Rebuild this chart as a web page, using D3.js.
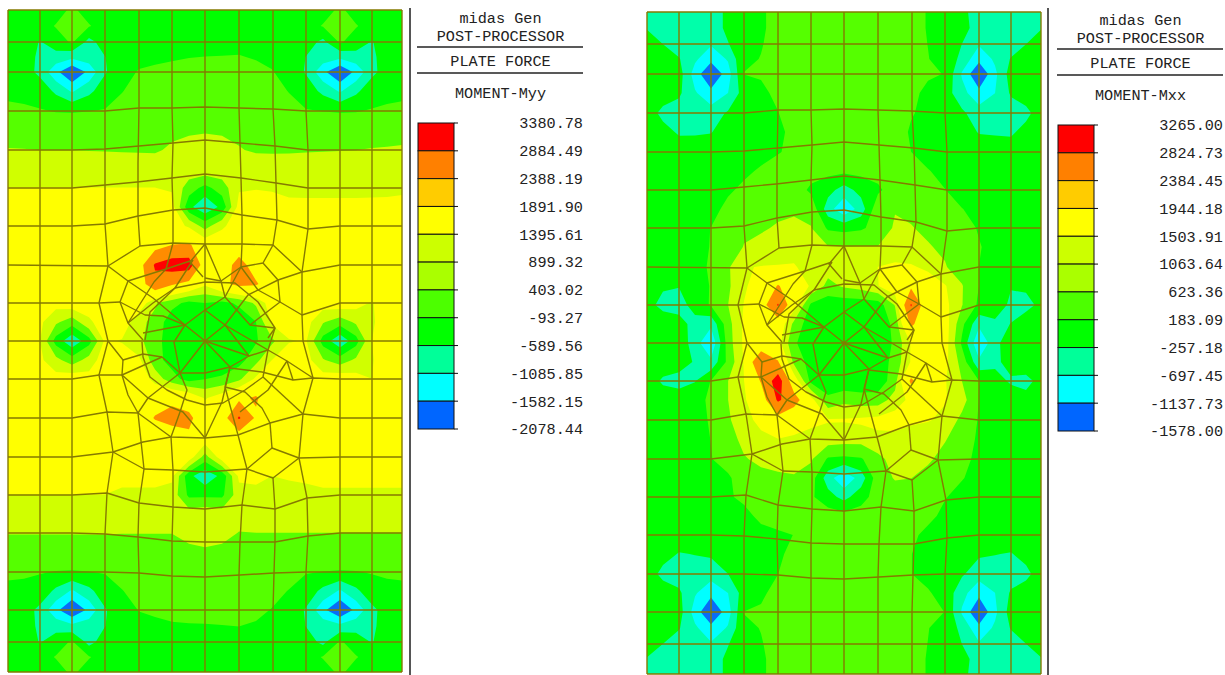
<!DOCTYPE html>
<html>
<head>
<meta charset="utf-8">
<script src="https://cdn.jsdelivr.net/npm/d3@7"></script>
<style>
  body { margin: 0; background: #fff; }
  text { font-family: "Liberation Mono", monospace; font-size: 15.2px; fill: #222; }
  .mesh { fill: none; stroke: #857a00; stroke-width: 1.4; stroke-linejoin: round; }
</style>
</head>
<body>
<svg id="chart" width="1225" height="675"></svg>
<script>
// legend tick labels
const legendMyy = ["3380.78","2884.49","2388.19","1891.90","1395.61","899.32","403.02","-93.27","-589.56","-1085.85","-1582.15","-2078.44"];
const legendMxx = ["3265.00","2824.73","2384.45","1944.18","1503.91","1063.64","623.36","183.09","-257.18","-697.45","-1137.73","-1578.00"];
const legendColors = ["#ff0000","#ff8000","#ffcc00","#ffff00","#ccff00","#aaff00","#4cff00","#00ff00","#00ff99","#00ffff","#0066ff"];

// contour levels actually shown on the plate
const levelsMyy = [-1582.15,-1085.85,-589.56,-93.27,403.02,899.32,1891.90,2884.49];
const levelsMxx = [-1137.73,-697.45,-257.18,183.09,623.36,1063.64,1944.18,2824.73];
const plateColors = ["#0a6cf5","#00ffff","#00ffaa","#00ff00","#55ff00","#d0ff00","#ffff00","#ff8c00","#ff0000"];

// sample positions on the plate
const sampleX = [8,24,40,56,72,89,105,122,139,155,172,189,205,222,239,256,272,289,306,323,340,356,372,387,402];
const sampleY = [10,26,42,57,72,91,111,130,150,169,188,207,226,245,265,284,303,322,341,360,379,398,418,437,457,476,495,514,533,552,572,591,610,626,642,657,672];

// plate moment values, one row per sampleY
const momentMyy = [
[-300,-300,-300,-300,0,-300,-300,-300,-300,-300,-300,-300,-300,-300,-300,-300,-300,-300,-300,-300,0,-300,-300,-300,-300],
[-300,-300,-300,-60,80,-60,-300,-300,-300,-300,-300,-300,-300,-300,-300,-300,-300,-300,-300,-60,80,-60,-300,-300,-300],
[-300,-300,-620,-330,-30,-760,-350,-280,-240,-220,-200,-190,-180,-190,-200,-220,-240,-280,-350,-720,-30,-330,-620,-300,-300],
[-300,-330,-700,-780,-950,-800,-600,-280,-220,-170,-130,-100,-90,-85,-75,-120,-200,-280,-600,-800,-950,-780,-700,-330,-300],
[-300,-360,-720,-1450,-2078,-1450,-640,-250,-60,-20,0,10,20,20,20,0,-70,-260,-640,-1450,-2078,-1450,-720,-360,-300],
[-170,-190,-260,-700,-1150,-720,-300,-110,60,100,120,130,140,140,130,110,60,-110,-300,-720,-1150,-700,-260,-190,-170],
[-20,-40,-70,-110,-120,-100,-70,60,160,200,230,240,250,240,230,200,160,60,-70,-100,-120,-110,-70,-40,-20],
[170,170,170,170,170,170,170,170,220,260,300,340,360,340,300,250,210,170,170,170,170,170,170,170,170],
[430,420,400,400,400,390,380,370,360,350,470,560,600,560,430,350,340,350,370,380,390,400,430,450,480],
[650,650,650,650,650,650,650,650,650,650,680,720,750,720,680,650,650,640,630,630,630,630,640,650,660],
[905,905,905,905,905,905,905,905,905,905,840,150,-250,150,840,880,860,800,790,790,790,790,800,810,830],
[1080,1080,1080,1080,1080,1080,1080,1080,1080,1080,1100,-450,-1000,-450,1100,1080,1060,1000,1000,1000,1000,1000,1000,1000,1020],
[1220,1220,1220,1220,1220,1220,1220,1220,1220,1220,1220,800,200,800,1220,1220,1220,1220,1220,1220,1220,1220,1220,1220,1220],
[1330,1330,1330,1330,1330,1330,1330,1330,1340,1500,1900,2000,1300,1300,1300,1340,1330,1330,1330,1330,1330,1330,1330,1330,1330],
[1400,1400,1400,1400,1400,1400,1400,1400,1500,3000,3380,3380,1300,1300,2300,1400,1400,1400,1400,1400,1400,1400,1400,1400,1400],
[1400,1400,1400,1400,1400,1400,1400,1400,1400,2600,2000,1600,1000,1700,2100,2000,1300,1400,1400,1400,1400,1400,1400,1400,1400],
[1350,1350,1150,1100,1250,1200,1300,1300,1300,450,100,-250,-100,-250,0,500,1200,1350,1300,1150,1250,1100,850,1300,1350],
[1350,1300,1000,500,120,800,1200,1300,500,300,-450,-450,-500,-500,-450,-100,1000,1300,1100,450,120,500,800,1300,1350],
[1350,1300,900,-300,-950,-300,1000,850,500,150,-450,-500,-520,-500,-480,-150,300,850,950,-300,-950,-300,900,1300,1350],
[1350,1300,1000,550,120,600,1200,1300,1000,100,-300,-500,-520,-500,-300,250,900,1300,1100,450,120,500,850,1300,1350],
[1400,1350,1150,1100,1250,1100,1300,1350,1300,700,100,-300,-100,0,300,1000,1300,1350,1300,1150,1250,1100,900,1350,1400],
[1400,1400,1400,1400,1400,1400,1400,1400,1350,1500,1600,1400,850,1200,1700,2000,1300,1400,1400,1400,1400,1400,1400,1400,1400],
[1400,1400,1400,1400,1400,1400,1400,1400,1400,1950,2300,2100,1300,1400,3000,1750,1350,1400,1400,1400,1400,1400,1400,1400,1400],
[1330,1330,1330,1330,1330,1330,1330,1330,1330,1350,1300,1750,1300,1300,1400,1300,1330,1330,1330,1330,1330,1330,1330,1330,1330],
[1250,1250,1250,1250,1250,1250,1250,1250,1250,1250,1250,1200,200,1200,1250,1250,1250,1250,1250,1250,1250,1250,1250,1250,1250],
[1050,1050,1050,1050,1050,1050,1050,1050,1050,1050,1000,-450,-950,-450,1000,1000,900,930,950,980,980,980,980,980,980],
[895,895,895,895,895,895,895,800,800,800,700,-200,-200,-200,700,780,780,800,820,850,850,850,850,850,850],
[650,650,650,650,650,650,650,650,650,650,650,650,750,650,650,650,650,650,650,650,650,650,650,650,650],
[420,420,420,420,420,420,420,410,410,410,410,600,650,600,380,400,400,400,400,400,400,400,400,400,400],
[200,200,200,200,200,200,200,200,200,200,200,250,320,250,200,200,200,200,200,200,200,200,200,200,200],
[-30,-40,-70,-110,-120,-100,-70,60,160,200,230,240,250,240,230,200,160,60,-70,-100,-120,-110,-70,-40,-30],
[-170,-190,-260,-700,-1150,-720,-300,-110,60,110,130,140,150,150,150,120,30,-110,-300,-720,-1150,-700,-260,-190,-170],
[-300,-360,-720,-1450,-2078,-1450,-640,-250,-80,-50,-20,-10,10,20,20,-10,-110,-260,-640,-1450,-2078,-1450,-720,-360,-300],
[-300,-330,-700,-780,-950,-800,-600,-280,-220,-150,-120,-110,-110,-100,-90,-130,-220,-280,-600,-800,-950,-780,-700,-330,-300],
[-300,-300,-620,-330,-30,-760,-350,-280,-240,-220,-200,-190,-180,-190,-200,-220,-240,-280,-350,-720,-30,-330,-620,-300,-300],
[-300,-300,-300,-60,80,-60,-300,-300,-300,-300,-300,-300,-300,-300,-300,-300,-300,-300,-300,-60,80,-60,-300,-300,-300],
[-300,-300,-300,-300,0,-300,-300,-300,-300,-300,-300,-300,-300,-300,-300,-300,-300,-300,-300,-300,0,-300,-300,-300,-300]
];

const momentMxx = [
[-500,-500,-500,-500,-500,-150,80,150,260,420,420,420,420,420,420,420,260,170,100,-150,-450,-500,-500,-500,-500],
[-280,-420,-500,-500,-500,-150,80,150,260,420,420,420,420,420,420,420,260,170,100,-100,-450,-500,-500,-420,-280],
[-80,-260,-460,-560,-650,-280,60,170,260,420,420,420,420,420,420,420,260,180,50,-260,-650,-560,-460,-260,-80],
[20,-100,-230,-620,-1000,-650,140,190,300,420,420,420,420,420,420,420,300,190,100,-400,-1000,-620,-230,-100,20],
[50,50,-60,-900,-1578,-900,190,230,320,420,420,420,420,420,420,420,320,240,170,-750,-1578,-800,-50,30,60],
[70,50,-180,-650,-1000,-700,-50,80,290,420,420,420,420,420,420,420,290,80,-40,-550,-1000,-700,-200,50,70],
[40,-420,-480,-520,-500,-200,20,60,170,420,430,430,430,430,430,400,220,60,20,-180,-500,-520,-480,-420,40],
[70,-60,-330,-320,-280,-20,30,50,90,300,440,440,440,440,440,400,130,40,20,-10,-290,-320,-350,-60,70],
[50,50,50,50,50,50,50,60,150,300,430,430,430,430,430,300,185,60,50,50,50,50,50,50,50],
[50,50,50,50,50,50,110,230,400,420,350,300,280,300,350,420,400,200,90,50,50,50,50,50,50],
[50,50,50,50,50,130,260,420,420,420,100,-100,-450,-100,100,420,430,350,190,70,50,50,50,50,50],
[50,50,50,50,60,280,450,480,500,560,500,-500,-1050,-500,500,600,560,500,420,190,100,50,50,50,50],
[50,50,50,50,190,400,550,560,680,720,640,120,50,120,350,680,640,560,450,340,150,50,50,50,50],
[50,50,50,50,200,400,640,780,850,900,750,650,640,650,640,780,850,650,560,400,210,50,50,50,50],
[50,50,50,60,230,560,1040,1080,1090,1100,900,800,780,800,1070,1150,1100,1000,650,430,180,50,50,50,50],
[50,-200,-240,50,200,550,1000,1300,2000,1500,1000,500,680,800,1050,1400,1800,1250,1100,650,180,50,-230,-180,50],
[-100,-400,-420,-100,230,620,1080,1500,2900,1300,100,-100,-100,-100,-50,650,2900,1300,1200,640,100,0,-350,-400,-150],
[30,30,-100,-400,-600,450,1150,1950,1500,500,-100,-150,-200,-150,-100,300,2100,1300,1300,300,-600,-350,-250,0,30],
[60,60,60,-500,-1100,400,1150,1300,1250,250,-120,-150,-200,-150,-100,250,1100,1300,1300,100,-1100,-400,50,60,60],
[50,30,-50,-300,-600,300,1100,2800,2000,500,0,-150,-200,-150,-100,350,1100,1300,1200,450,-600,-380,-50,30,50],
[20,-340,-430,-280,200,620,1060,2000,3300,1400,50,-150,-150,-150,-120,450,2100,1300,1100,620,190,-50,-330,-400,-100],
[60,30,0,60,250,620,1000,1500,2950,2300,1250,300,500,400,400,800,1200,1300,1100,800,170,60,40,-100,60],
[50,50,50,50,220,560,900,1200,1600,1300,1150,1100,1100,1150,1200,1300,1150,1100,950,500,150,50,50,50,50],
[50,50,50,50,190,450,740,950,1060,1000,950,850,800,800,950,900,850,750,650,420,110,50,50,50,50],
[50,50,50,50,170,330,590,720,750,720,680,130,80,140,500,800,750,680,500,280,100,50,50,50,50],
[50,50,50,50,70,130,370,500,560,600,400,-500,-1050,-500,450,650,630,500,360,200,80,50,50,50,50],
[50,50,50,50,50,150,240,400,450,450,250,-80,-400,0,400,450,400,330,200,80,50,50,50,50,50],
[50,50,50,50,50,50,100,250,420,420,420,400,350,400,420,420,420,260,110,50,50,50,50,50,50],
[50,50,50,50,50,50,60,90,100,190,420,420,420,420,420,420,250,100,50,50,50,50,50,50,50],
[70,-60,-290,-240,-190,-20,30,50,110,300,420,420,420,420,420,400,190,60,20,-20,-190,-240,-290,-60,70],
[40,-420,-480,-520,-520,-260,20,60,180,420,420,420,420,420,420,420,190,60,20,-200,-520,-520,-480,-420,40],
[70,50,-180,-650,-1000,-700,-50,120,300,420,420,420,420,420,420,420,350,220,40,-550,-1000,-700,-200,50,70],
[50,50,-60,-900,-1578,-900,190,230,320,420,420,420,420,420,420,420,320,240,180,-750,-1578,-800,-50,30,60],
[20,-100,-230,-620,-1000,-650,140,190,300,420,420,420,420,420,420,420,300,190,100,-400,-1000,-620,-230,-100,20],
[-80,-260,-460,-560,-650,-280,60,170,260,420,420,420,420,420,420,420,260,180,50,-260,-650,-560,-460,-260,-80],
[-280,-420,-500,-500,-500,-150,80,150,260,420,420,420,420,420,420,420,260,170,100,-100,-450,-500,-500,-420,-280],
[-500,-500,-500,-500,-500,-150,80,150,260,420,420,420,420,420,420,420,260,170,100,-150,-450,-500,-500,-500,-500]
];

// finite element mesh, plate coordinates
const meshLines = [
// rows
[[8,10],[402,10]],[[8,42],[402,42]],[[8,72],[402,72]],
[[8,111],[105,111],[139,108],[172,108],[205,107],[239,108],[273,109],[306,111],[402,111]],
[[8,150],[72,150],[105,149],[139,146],[173,143],[205,140],[240,143],[275,146],[308,150],[402,150]],
[[8,188],[72,188],[105,185],[137,182],[172,178],[205,174],[241,178],[276,183],[308,188],[402,188]],
[[8,226],[72,226],[105,224],[138,216],[173,210],[205,208],[242,215],[277,220],[308,229],[340,226],[402,226]],
[[8,265],[108,266]],[[302,272],[340,265],[402,265]],
[[8,303],[99,303],[120,302]],[[280,302],[302,315],[340,303],[402,303]],
[[8,341],[402,341]],
[[8,379],[72,379],[99,375],[122,375],[162,357]],[[230,368],[262,372],[293,380],[313,378],[340,379],[402,379]],
[[8,418],[72,418],[107,412],[138,413],[171,437],[205,438],[238,435],[270,423],[303,414],[340,418],[402,418]],
[[8,457],[72,457],[113,452],[143,442],[171,437]],[[299,458],[340,457],[402,457]],
[[113,452],[144,469],[173,470],[205,472],[247,469],[273,478],[299,458]],
[[247,469],[272,448],[299,458]],[[272,448],[270,423]],
[[8,495],[72,495],[107,493],[139,503],[173,507],[205,509],[242,505],[275,509],[307,498],[340,495],[402,495]],
[[8,533],[72,533],[105,534],[138,537],[172,541],[205,542],[240,542],[275,542],[308,536],[340,533],[402,533]],
[[8,572],[105,572],[139,573],[172,576],[205,577],[240,575],[274,573],[306,572],[402,572]],
[[8,610],[402,610]],[[8,642],[402,642]],[[8,672],[402,672]],
// columns
[[8,10],[8,672]],[[40,10],[40,672]],[[72,10],[72,672]],[[372,10],[372,672]],[[340,10],[340,672]],[[402,10],[402,672]],
[[105,10],[105,224],[108,266],[99,303],[108,341],[99,375],[107,412],[113,452],[107,493],[105,534],[105,672]],
[[139,10],[139,108],[138,163],[138,216],[140,246]],
[[138,413],[144,469],[139,503],[138,537],[139,573],[139,672]],
[[172,10],[172,108],[173,143],[172,178],[173,210],[173,243]],
[[171,437],[173,470],[173,507],[172,541],[172,576],[172,672]],
[[205,10],[205,672]],
[[239,10],[239,108],[240,143],[241,178],[242,215],[242,244]],
[[238,435],[247,469],[242,505],[240,542],[239,575],[239,672]],
[[273,10],[273,109],[275,146],[276,183],[277,220],[273,245]],
[[273,478],[275,509],[275,542],[274,573],[273,610],[273,672]],
[[306,10],[306,111],[308,150],[308,188],[308,229],[302,272],[302,315],[303,341],[313,378],[303,414],[299,458],[307,498],[308,536],[306,572],[306,672]],
// central web, upper left
[[108,266],[140,246],[173,243],[205,244],[242,244],[273,245],[302,272]],
[[108,266],[128,281],[153,298],[185,325],[205,341]],
[[173,243],[166,269],[154,282],[128,323]],
[[128,281],[166,269],[193,260]],
[[193,260],[175,288],[153,303],[128,323]],
[[120,302],[128,281]],[[120,302],[128,323],[143,340]],
[[120,302],[145,315],[163,316],[185,325]],
[[185,325],[143,333]],
[[205,244],[190,262],[203,277]],
// central web, upper right
[[205,244],[221,281],[205,278]],
[[242,244],[241,267],[221,281]],
[[273,245],[263,263],[241,267]],
[[221,281],[225,297],[205,310]],
[[241,267],[258,290],[280,302]],
[[263,263],[278,280],[302,272]],
[[278,280],[280,302]],
[[278,280],[248,295],[225,325]],
[[241,267],[225,297],[250,325],[275,328]],
[[280,302],[250,325]],
[[275,328],[268,338]],
// ring round the column head
[[145,340],[150,312],[175,288],[205,282],[235,283],[258,302],[275,328],[268,350],[263,377],[245,390],[223,403],[205,405],[187,400],[167,390],[150,377],[143,357],[142,342]],
// star in the middle
[[205,310],[225,325],[205,341]],[[205,310],[185,325]],
[[185,325],[174,342],[180,373],[205,373],[230,367],[249,356],[205,341]],
[[205,341],[180,373]],[[205,341],[230,367]],[[225,325],[249,356]],
[[225,325],[268,350]],
// central web, lower part
[[108,341],[123,360],[143,354],[162,357],[180,373]],
[[123,360],[122,375],[128,395],[138,413]],
[[180,373],[148,398],[138,413]],
[[122,375],[148,398],[183,412],[205,438]],
[[180,373],[187,390],[180,412],[171,437]],
[[230,367],[222,402],[205,438]],
[[225,387],[245,392],[262,408],[270,423]],
[[225,387],[238,435]],
[[230,367],[225,387]],
[[249,356],[268,350],[287,361],[313,378]],
[[287,361],[293,380]],
[[287,361],[268,390],[240,412]],
[[263,377],[303,414]]
];

const svg = d3.select("#chart");

// the mesh is shared, only the position of the plate differs
function drawPlate(moment, levels, dx, dy) {
  const x = d3.scaleLinear().domain([8, 402]).range([8 + dx, 402 + dx]);
  const y = d3.scaleLinear().domain([10, 672]).range([10 + dy, 672 + dy]);

  // d3.contours puts sample i at i + 0.5
  const gridX = d3.scaleLinear().domain(sampleX.map((d, i) => i + 0.5)).range(sampleX).clamp(true);
  const gridY = d3.scaleLinear().domain(sampleY.map((d, i) => i + 0.5)).range(sampleY).clamp(true);

  const contours = d3.contours().size([sampleX.length, sampleY.length]).thresholds(levels)(moment.flat());

  const path = d3.geoPath(d3.geoTransform({
    point(px, py) { this.stream.point(x(gridX(px)), y(gridY(py))); }
  }));

  const g = svg.append("g");
  g.append("rect")
    .attr("x", x(8)).attr("y", y(10))
    .attr("width", x(402) - x(8)).attr("height", y(672) - y(10))
    .attr("fill", plateColors[0]);
  g.selectAll("path.band")
    .data(contours)
    .join("path")
    .attr("class", "band")
    .attr("d", path)
    .attr("fill", (d, i) => plateColors[i + 1]);

  const line = d3.line().x(d => x(d[0])).y(d => y(d[1]));
  g.selectAll("path.mesh")
    .data(meshLines)
    .join("path")
    .attr("class", "mesh")
    .attr("d", line);
}

function drawLegend(labels, title, dx, dy, dividerX) {
  svg.append("line").attr("x1", dividerX).attr("x2", dividerX).attr("y1", 8).attr("y2", 675)
    .attr("stroke", "#555").attr("stroke-width", 2);

  const g = svg.append("g").attr("transform", `translate(${dx},${dy})`);
  const tickY = d3.scalePoint().domain(d3.range(labels.length)).range([123, 429]);

  const heads = [["midas Gen", 18], ["POST-PROCESSOR", 36], ["PLATE FORCE", 61], [title, 93]];
  g.selectAll("text.head")
    .data(heads)
    .join("text")
    .attr("class", "head")
    .attr("x", 500.5).attr("y", d => d[1])
    .attr("dy", "0.35em")
    .attr("text-anchor", "middle")
    .text(d => d[0]);

  g.selectAll("line.rule")
    .data([47, 73])
    .join("line")
    .attr("class", "rule")
    .attr("x1", 417).attr("x2", 583)
    .attr("y1", d => d).attr("y2", d => d)
    .attr("stroke", "#222").attr("stroke-width", 1.3);

  g.selectAll("rect.swatch")
    .data(legendColors)
    .join("rect")
    .attr("class", "swatch")
    .attr("x", 418).attr("width", 36)
    .attr("y", (d, i) => tickY(i))
    .attr("height", (d, i) => tickY(i + 1) - tickY(i))
    .attr("fill", d => d)
    .attr("stroke", "#111").attr("stroke-width", 1);

  g.selectAll("line.tick")
    .data(labels)
    .join("line")
    .attr("class", "tick")
    .attr("x1", 454).attr("x2", 458)
    .attr("y1", (d, i) => tickY(i)).attr("y2", (d, i) => tickY(i))
    .attr("stroke", "#111");

  g.selectAll("text.value")
    .data(labels)
    .join("text")
    .attr("class", "value")
    .attr("x", 583).attr("y", (d, i) => tickY(i))
    .attr("dy", "0.35em")
    .attr("text-anchor", "end")
    .text(d => d);
}

drawPlate(momentMyy, levelsMyy, 0, 0);
drawPlate(momentMxx, levelsMxx, 639, 2);
drawLegend(legendMyy, "MOMENT-Myy", 0, 0, 410);
drawLegend(legendMxx, "MOMENT-Mxx", 640, 2, 1048);
</script>
</body>
</html>
